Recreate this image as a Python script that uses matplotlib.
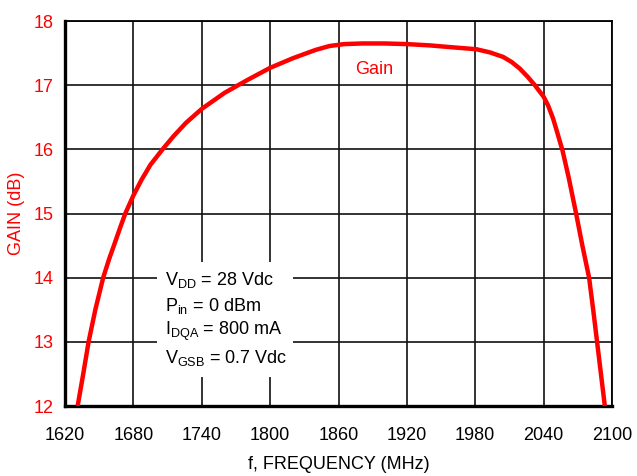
import matplotlib
matplotlib.use("Agg")
import matplotlib.pyplot as plt
from matplotlib.patches import Rectangle

plt.rcParams['font.family'] = ['Liberation Sans Narrow', 'Liberation Sans', 'DejaVu Sans']
plt.rcParams['mathtext.fontset'] = 'custom'
plt.rcParams['mathtext.rm'] = 'Liberation Sans'
plt.rcParams['mathtext.default'] = 'regular'

# gain curve
freq = [1631.1, 1636, 1640.7, 1646.6, 1653.5, 1658.9, 1663.9, 1668, 1672.9, 1680, 1687,
        1695, 1705.6, 1715, 1726, 1740, 1760, 1780, 1800, 1820, 1840, 1852, 1865,
        1881, 1900, 1920, 1940, 1960, 1981, 1993, 2004.5, 2012, 2019, 2026, 2032.3,
        2040, 2044, 2048.3, 2052, 2056.6, 2062, 2068.5, 2074, 2079.9, 2083.5, 2086.9,
        2090.3, 2093.7]
gain = [12.0, 12.5, 13.0, 13.5, 14.0, 14.3, 14.55, 14.76, 15.0, 15.28, 15.52,
        15.76, 16.0, 16.2, 16.41, 16.63, 16.88, 17.08, 17.27, 17.42, 17.55, 17.61, 17.64,
        17.65, 17.65, 17.64, 17.62, 17.59, 17.56, 17.51, 17.44, 17.36, 17.26, 17.13, 17.0,
        16.82, 16.68, 16.48, 16.26, 15.98, 15.56, 15.0, 14.5, 14.0, 13.5, 13.0,
        12.5, 12.0]

xticks = [1620, 1680, 1740, 1800, 1860, 1920, 1980, 2040, 2100]
yticks = [12, 13, 14, 15, 16, 17, 18]
conditions = [r'V$_{DD}$ = 28 Vdc', r'P$_{in}$ = 0 dBm',
              r'I$_{DQA}$ = 800 mA', r'V$_{GSB}$ = 0.7 Vdc']
cond_y = [13.97, 13.56, 13.16, 12.75]

red = '#ff0000'

fig = plt.figure(figsize=(6.37, 4.76), dpi=100)
ax = fig.add_axes([65 / 637, 1 - 406 / 476, 547 / 637, 385 / 476])

ax.set_xlim(1620, 2100)
ax.set_ylim(12, 18)
ax.set_xticks(xticks)
ax.set_yticks(yticks)
ax.grid(True, color='#111111', linewidth=1.2)
ax.set_axisbelow(True)
ax.tick_params(length=0)
ax.tick_params(axis='x', labelsize=13, pad=15)
ax.tick_params(axis='y', labelsize=13, labelcolor=red, pad=8)

for side in ['left', 'bottom']:
    ax.spines[side].set_linewidth(2.4)
for side in ['top', 'right']:
    ax.spines[side].set_linewidth(1.3)

# white patch with the test conditions, covering the grid
ax.add_patch(Rectangle((1700.5, 12.455), 119.5, 1.795, facecolor='white',
                       edgecolor='none', zorder=2))
for txt, yy in zip(conditions, cond_y):
    ax.text(1708, yy, txt, fontsize=13, va='center', ha='left', zorder=3)

ax.plot(freq, gain, color=red, linewidth=3.2, solid_joinstyle='round',
        solid_capstyle='butt', zorder=4)
ax.text(1891, 17.24, 'Gain', color=red, fontsize=13, ha='center', va='center')

ax.set_xlabel('f, FREQUENCY (MHz)', fontsize=13, labelpad=9)
ax.set_ylabel('GAIN (dB)', fontsize=13, color=red, labelpad=6)

fig.savefig('out.png', dpi=100)
